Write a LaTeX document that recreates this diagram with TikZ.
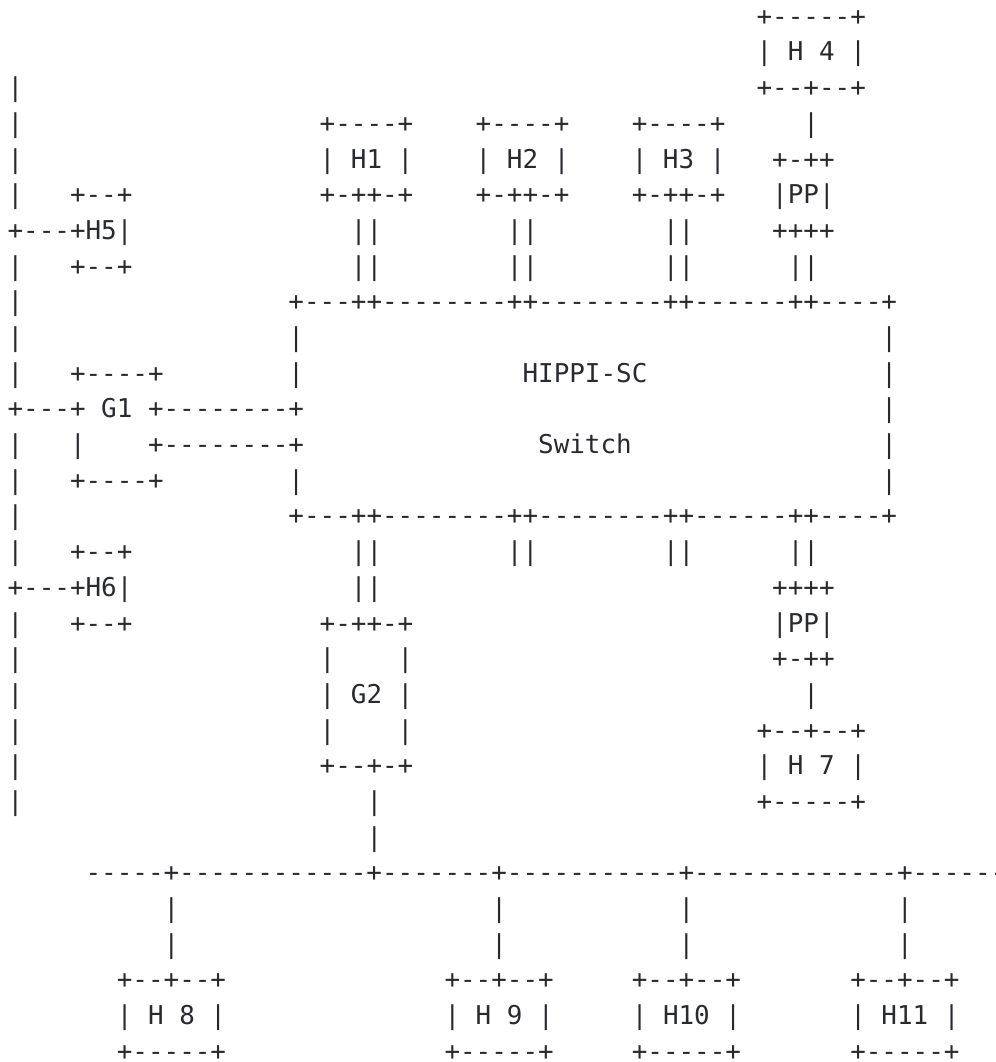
\documentclass[tikz,border=0pt]{standalone}
\usepackage{fontspec}
\setmonofont{DejaVu Sans Mono}
\usetikzlibrary{positioning}

\definecolor{inkgray}{RGB}{40,42,46}
% n blank columns of the mono font
\newcommand\sk[1]{\hspace*{#1\fontcharwd\font`\x}}

\begin{document}
\begin{tikzpicture}[
    x=0.5pt, y=-0.5pt,
    asciirow/.style={anchor=base west, inner sep=0pt, text=inkgray,
      font=\ttfamily\fontsize{12.96pt}{15pt}\selectfont}
]
\useasboundingbox (0,0) rectangle (996,1062);

\foreach \txt [count=\i from 0] in {
  {\sk{48}+-----+},
  {\sk{48}| H 4 |},
  {|\sk{47}+--+--+},
  {|\sk{19}+----+\sk{4}+----+\sk{4}+----+\sk{5}|},
  {|\sk{19}| H1 |\sk{4}| H2 |\sk{4}| H3 |\sk{3}+-++},
  {|\sk{3}+--+\sk{12}+-++-+\sk{4}+-++-+\sk{4}+-++-+\sk{3}|PP|},
  {+---+H5|\sk{14}||\sk{8}||\sk{8}||\sk{5}++++},
  {|\sk{3}+--+\sk{14}||\sk{8}||\sk{8}||\sk{6}||},
  {|\sk{17}+---++--------++--------++------++----+},
  {|\sk{17}|\sk{37}|},
  {|\sk{3}+----+\sk{8}|\sk{14}HIPPI-SC\sk{15}|},
  {+---+ G1 +--------+\sk{37}|},
  {|\sk{3}|\sk{4}+--------+\sk{15}Switch\sk{16}|},
  {|\sk{3}+----+\sk{8}|\sk{37}|},
  {|\sk{17}+---++--------++--------++------++----+},
  {|\sk{3}+--+\sk{14}||\sk{8}||\sk{8}||\sk{6}||},
  {+---+H6|\sk{14}||\sk{25}++++},
  {|\sk{3}+--+\sk{12}+-++-+\sk{23}|PP|},
  {|\sk{19}|\sk{4}|\sk{23}+-++},
  {|\sk{19}| G2 |\sk{25}|},
  {|\sk{19}|\sk{4}|\sk{22}+--+--+},
  {|\sk{19}+--+-+\sk{22}| H 7 |},
  {|\sk{22}|\sk{24}+-----+},
  {\sk{23}|},
  {\sk{5}-----+------------+-------+-----------+-------------+-------},
  {\sk{10}|\sk{20}|\sk{11}|\sk{13}|},
  {\sk{10}|\sk{20}|\sk{11}|\sk{13}|},
  {\sk{7}+--+--+\sk{14}+--+--+\sk{5}+--+--+\sk{7}+--+--+},
  {\sk{7}| H 8 |\sk{14}| H 9 |\sk{5}| H10 |\sk{7}| H11 |},
  {\sk{7}+-----+\sk{14}+-----+\sk{5}+-----+\sk{7}+-----+}
}{
  \node[asciirow] (l\i) at (7.2, 25.3+35.69*\i) {\txt};
}
\end{tikzpicture}
\end{document}
